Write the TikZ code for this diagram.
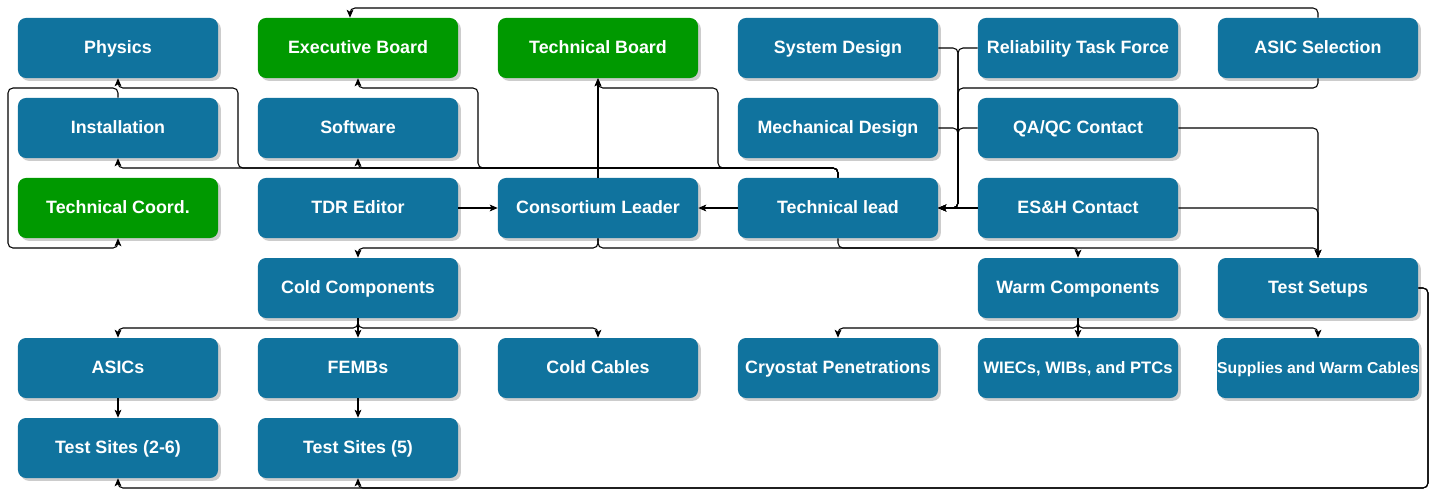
\documentclass[tikz,border=0pt]{standalone}
\usepackage{fontspec}
\setmainfont{Liberation Sans}
\usetikzlibrary{arrows.meta,shadows}
\definecolor{wgblue}{HTML}{10739E}
\definecolor{boardgreen}{HTML}{009900}
\begin{document}
\begin{tikzpicture}[x=0.025cm, y=-0.025cm,
    wgbox/.style={fill=wgblue, rounded corners=0.2cm, minimum width=5cm, minimum height=1.5cm,
        text=white, font=\fontsize{12.7}{14}\selectfont\bfseries, inner sep=0pt,
        text height=0.75em, text depth=0pt,
        drop shadow={shadow xshift=2pt, shadow yshift=-2pt, fill=black, opacity=0.2}},
    boardbox/.style={wgbox, fill=boardgreen},
    link/.style={-{Stealth[length=0.2cm, width=0.17cm, inset=0.05cm]}, rounded corners=3.5pt, line width=0.75pt}]
    \useasboundingbox (0,0) rectangle (1436,496);

    % First row
    \node[wgbox] (phys) at (118,48) {Physics};
    \node[boardbox] (exec) at (358,48) {Executive Board};
    \node[boardbox] (techboard) at (598,48) {Technical Board};
    \node[wgbox] (sysdes) at (838,48) {System Design};
    \node[wgbox] (relia) at (1078,48) {Reliability Task Force};
    \node[wgbox] (asicsel) at (1318,48) {ASIC Selection};

    % Second row
    \node[wgbox] (install) at (118,128) {Installation};
    \node[wgbox] (soft) at (358,128) {Software};
    \node[wgbox] (mechdes) at (838,128) {Mechanical Design};
    \node[wgbox] (qaqc) at (1078,128) {QA/QC Contact};

    % Leadership row
    \node[boardbox] (techcoord) at (118,208) {Technical Coord.};
    \node[wgbox] (tdr) at (358,208) {TDR Editor};
    \node[wgbox] (leader) at (598,208) {Consortium Leader};
    \node[wgbox] (techlead) at (838,208) {Technical lead};
    \node[wgbox] (esh) at (1078,208) {ES\&H Contact};

    % Component groups
    \node[wgbox] (cold) at (358,288) {Cold Components};
    \node[wgbox] (warm) at (1078,288) {Warm Components};
    \node[wgbox] (setups) at (1318,288) {Test Setups};

    \node[wgbox] (asics) at (118,368) {ASICs};
    \node[wgbox] (fembs) at (358,368) {FEMBs};
    \node[wgbox] (ccables) at (598,368) {Cold Cables};
    \node[wgbox] (cryo) at (838,368) {Cryostat Penetrations};
    \node[wgbox, font=\fontsize{11.8}{13}\selectfont\bfseries] (wiecs) at (1078,368) {WIECs, WIBs, and PTCs};
    \node[wgbox, font=\fontsize{11.2}{13}\selectfont\bfseries] (supplies) at (1318,368) {Supplies and Warm Cables};

    \node[wgbox] (sites26) at (118,448) {Test Sites (2-6)};
    \node[wgbox] (sites5) at (358,448) {Test Sites (5)};

    % Links to the upper boxes
    \draw[link] (asicsel.north) |- (350,8) -- ([xshift=-0.2cm]exec.north);
    \draw[link] (leader.north) -- (techboard.south);
    \draw[link] (techlead.north) |- (718,168) |- (598,88) -- (techboard.south);
    \draw[link] (techlead.north) |- (478,168) |- (358,88) -- (exec.south);
    \draw[link] (techlead.north) |- (238,168) |- (118,88) -- (phys.south);
    \draw[link] (techlead.north) |- (358,168) -- (soft.south);
    \draw[link] (techlead.north) |- (118,168) -- (install.south);
    \draw[link] (install.north) |- (8,88) |- (118,248) -- (techcoord.south);

    % Links into the technical lead
    \draw[link] (asicsel.south) |- (958,88) |- (techlead.east);
    \draw[link] (sysdes.east) -| (958,208) -- (techlead.east);
    \draw[link] (relia.west) -| (958,208) -- (techlead.east);
    \draw[link] (mechdes.east) -| (958,208) -- (techlead.east);
    \draw[link] (qaqc.west) -| (958,208) -- (techlead.east);
    \draw[link] (esh.west) -- (techlead.east);

    % Links into the consortium leader
    \draw[link] (tdr.east) -- (leader.west);
    \draw[link] (techlead.west) -- (leader.east);

    % Links to the component groups
    \draw[link] (leader.south) |- (358,248) -- (cold.north);
    \draw[link] (leader.south) |- (1078,248) -- (warm.north);
    \draw[link] (techlead.south) |- (1318,248) -- (setups.north);
    \draw[link] (qaqc.east) -| (setups.north);
    \draw[link] (esh.east) -| (setups.north);

    % Cold and warm parts
    \foreach \part in {asics, fembs, ccables}
        \draw[link] (cold.south) |- (\part.north |- 0,328) -- (\part.north);
    \foreach \part in {cryo, wiecs, supplies}
        \draw[link] (warm.south) |- (\part.north |- 0,328) -- (\part.north);

    % Test sites
    \draw[link] (asics.south) -- (sites26.north);
    \draw[link] (fembs.south) -- (sites5.north);
    \draw[link] (setups.east) -| (1428,488) -| (sites26.south);
    \draw[link] (setups.east) -| (1428,488) -| (sites5.south);
\end{tikzpicture}
\end{document}
